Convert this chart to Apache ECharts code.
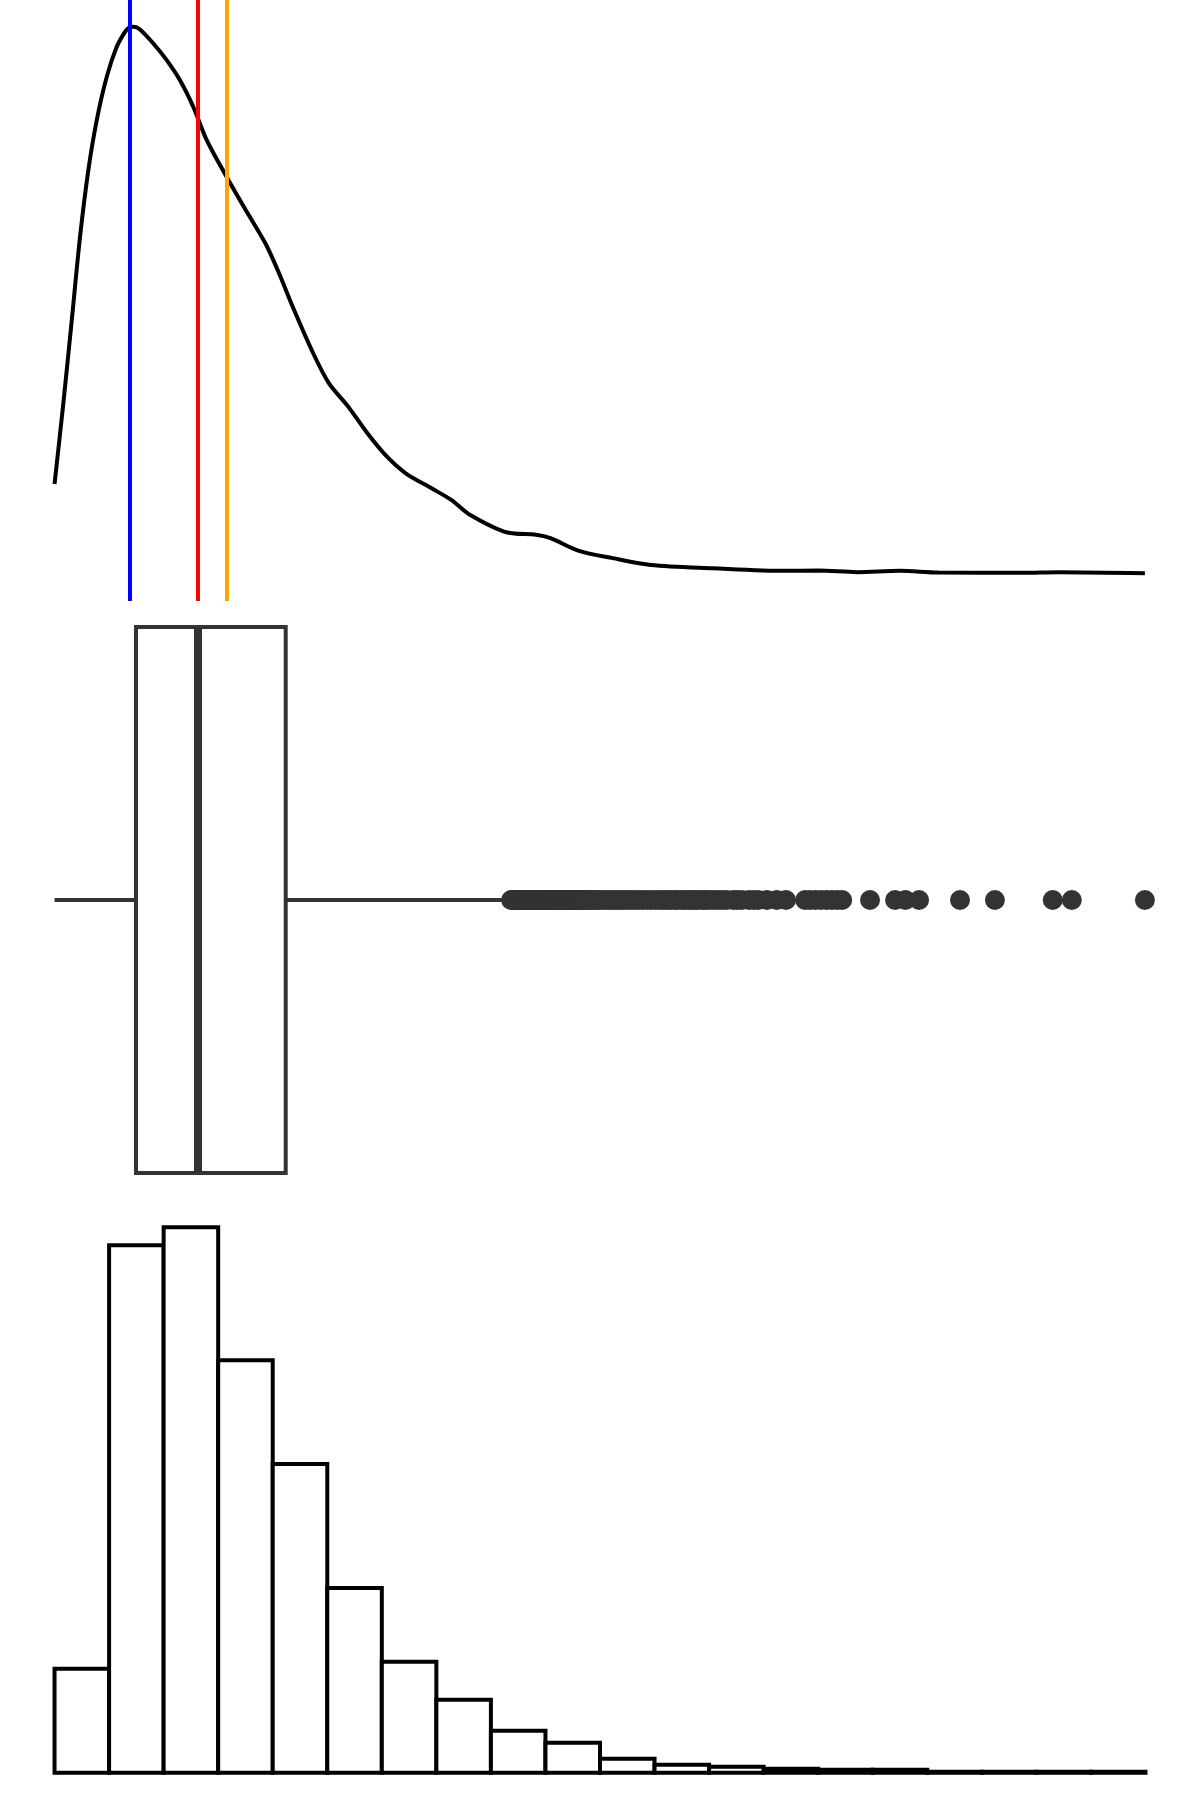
<!DOCTYPE html>
<html>
<head>
<meta charset="utf-8">
<script src="https://cdn.jsdelivr.net/npm/echarts@6/dist/echarts.min.js"></script>
<style>
  html, body { margin: 0; padding: 0; background: #fff; }
  #chart { width: 1200px; height: 1800px; }
</style>
</head>
<body>
<div id="chart"></div>
<script>
// density curve, [x, density]
const densityPts = [
  [0.0, 0.0411], [0.16, 0.0777], [0.315, 0.1158], [0.467, 0.154], [0.619, 0.1845],
  [0.773, 0.2074], [0.956, 0.2272], [1.14, 0.241], [1.292, 0.2478], [1.37, 0.2499],
  [1.45, 0.2502], [1.567, 0.2489], [1.811, 0.2425], [2.056, 0.2349], [2.30, 0.2257],
  [2.544, 0.2135], [2.79, 0.1983], [3.156, 0.1815], [3.53, 0.1653], [3.877, 0.1506],
  [4.133, 0.1364], [4.333, 0.1241], [4.753, 0.1003], [5.032, 0.0871], [5.38, 0.0766],
  [5.736, 0.0643], [6.086, 0.0538], [6.438, 0.046], [6.929, 0.0389], [7.28, 0.0337],
  [7.598, 0.0273], [8.302, 0.0189], [8.827, 0.0179], [9.093, 0.0163], [9.615, 0.0105],
  [10.233, 0.0072], [10.935, 0.0041], [12.07, 0.0026], [13.39, 0.0014], [14.0, 0.0015],
  [14.71, 0.0008], [15.5, 0.0014], [16.2, 0.0006], [17.77, 0.0005], [18.39, 0.0008],
  [19.99, 0.0003]
];

// mode, median, mean
const refLines = [
  { value: 1.371, color: '#0000FF' },
  { value: 2.635, color: '#FF0000' },
  { value: 3.156, color: '#FFA500' }
];

// min, Q1, median, Q3, upper whisker
const boxStats = [0.0, 1.493, 2.63, 4.238, 8.33];

const outliers = [
  8.37, 8.39, 8.42, 8.44, 8.47, 8.5, 8.52, 8.55, 8.58, 8.61, 8.63, 8.66, 8.69, 8.71, 8.74,
  8.77, 8.8, 8.83, 8.85, 8.88, 8.91, 8.94, 8.96, 8.99,
  9.02, 9.05, 9.08, 9.1, 9.13, 9.16, 9.19, 9.22, 9.25, 9.28, 9.3, 9.33, 9.36, 9.39, 9.42,
  9.45, 9.48, 9.51, 9.54, 9.57, 9.6, 9.63, 9.66, 9.7, 9.74, 9.78, 9.82, 9.87, 9.92, 9.97,
  10.03, 10.1, 10.16, 10.22, 10.29, 10.35, 10.42, 10.48, 10.55, 10.62, 10.7, 10.78, 10.86, 10.94,
  11.02, 11.1, 11.17, 11.24, 11.3, 11.37, 11.42, 11.5, 11.55, 11.62, 11.68, 11.75, 11.8, 11.88, 11.93,
  12.0, 12.08, 12.16, 12.24, 12.32, 12.44, 12.52, 12.6, 12.73, 12.82, 12.9,
  13.06, 13.24, 13.41, 13.76, 13.85, 13.95, 14.05, 14.15, 14.25, 14.35, 14.44,
  14.95, 15.41, 15.6, 15.85, 16.6, 17.24, 18.3, 18.65, 19.99
];

// histogram, 20 bins of width 1 from 0 to 20
const binEdges = [0, 1, 2, 3, 4, 5, 6, 7, 8, 9, 10, 11, 12, 13, 14, 15, 16, 17, 18, 19, 20];
const binCounts = [104, 528, 546, 413, 309, 185, 111, 73, 42, 30, 14, 8, 6, 4, 3, 3, 1, 1, 1, 1];

const histData = binCounts.map((c, i) => [binEdges[i], binEdges[i + 1], c]);

const chart = echarts.init(document.getElementById('chart'), null, { renderer: 'canvas' });

const xAxisBase = { type: 'value', min: -1, max: 21, show: false };

const option = {
  animation: false,
  backgroundColor: '#ffffff',
  grid: [
    { left: 0, right: 0, top: 0, height: 601 },
    { left: 0, right: 0, top: 600, height: 600 },
    { left: 0, right: 0, top: 1200, height: 600 }
  ],
  xAxis: [
    Object.assign({ gridIndex: 0 }, xAxisBase),
    Object.assign({ gridIndex: 1 }, xAxisBase),
    Object.assign({ gridIndex: 2 }, xAxisBase)
  ],
  yAxis: [
    { gridIndex: 0, type: 'value', min: -0.0124, max: 0.2624, show: false },
    { gridIndex: 1, type: 'value', min: -1, max: 1, show: false },
    { gridIndex: 2, type: 'value', min: -27.3, max: 573.3, show: false }
  ],
  series: [
    {
      type: 'line',
      xAxisIndex: 0,
      yAxisIndex: 0,
      data: densityPts,
      smooth: 0.3,
      showSymbol: false,
      lineStyle: { color: '#000000', width: 4 },
      z: 3,
      markLine: {
        silent: true,
        symbol: 'none',
        label: { show: false },
        data: refLines.map(l => ({
          xAxis: l.value,
          lineStyle: { color: l.color, width: 4, type: 'solid' }
        }))
      }
    },
    {
      type: 'custom',
      xAxisIndex: 1,
      yAxisIndex: 1,
      data: [boxStats],
      renderItem: function (params, api) {
        const lo = api.coord([api.value(0), 0]);
        const q1 = api.coord([api.value(1), 0.91]);
        const med = api.value(2);
        const q3 = api.coord([api.value(3), -0.91]);
        const hi = api.coord([api.value(4), 0]);
        const mTop = api.coord([med, 0.91]);
        const mBot = api.coord([med, -0.91]);
        const stroke = '#333333';
        return {
          type: 'group',
          children: [
            { type: 'line', shape: { x1: lo[0], y1: lo[1], x2: q1[0], y2: lo[1] },
              style: { stroke: stroke, lineWidth: 4 } },
            { type: 'line', shape: { x1: q3[0], y1: hi[1], x2: hi[0], y2: hi[1] },
              style: { stroke: stroke, lineWidth: 4 } },
            { type: 'rect', shape: { x: q1[0], y: q1[1], width: q3[0] - q1[0], height: q3[1] - q1[1] },
              style: { fill: '#ffffff', stroke: stroke, lineWidth: 4 } },
            { type: 'line', shape: { x1: mTop[0], y1: mTop[1], x2: mBot[0], y2: mBot[1] },
              style: { stroke: stroke, lineWidth: 8 } }
          ]
        };
      }
    },
    {
      type: 'scatter',
      xAxisIndex: 1,
      yAxisIndex: 1,
      data: outliers.map(v => [v, 0]),
      symbolSize: 20,
      itemStyle: { color: '#333333', opacity: 1 },
      z: 4
    },
    {
      type: 'custom',
      xAxisIndex: 2,
      yAxisIndex: 2,
      data: histData,
      renderItem: function (params, api) {
        const p0 = api.coord([api.value(0), 0]);
        const p1 = api.coord([api.value(1), api.value(2)]);
        return {
          type: 'rect',
          shape: { x: p0[0], y: p1[1], width: p1[0] - p0[0], height: p0[1] - p1[1] },
          style: { fill: '#ffffff', stroke: '#000000', lineWidth: 4 }
        };
      }
    }
  ]
};

chart.setOption(option);
</script>
</body>
</html>
